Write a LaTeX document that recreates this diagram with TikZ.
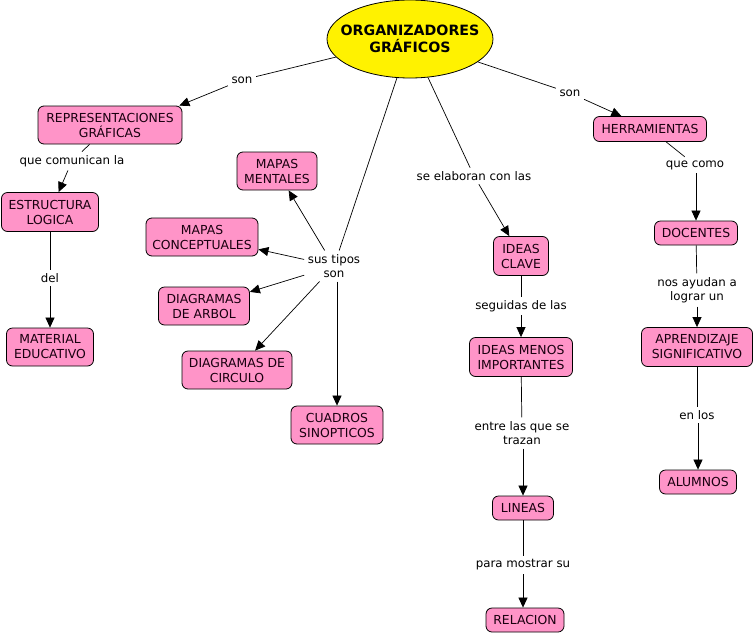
\documentclass[tikz,border=0pt]{standalone}
\usepackage{fontspec}
\setmainfont{DejaVu Sans}
\usetikzlibrary{shapes.geometric,arrows.meta}
\definecolor{boxpink}{HTML}{FF94C8}
\definecolor{boxtext}{HTML}{1A0010}
\tikzset{
  box/.style={draw=black, fill=boxpink, rounded corners=6pt, align=center,
    inner sep=1pt, text=boxtext, font=\fontsize{12.4}{15}\selectfont, line width=0.8pt},
  lbl/.style={align=center, inner sep=3.5pt, font=\fontsize{11.8}{14.5}\selectfont},
  link/.style={line width=0.7pt},
  arr/.style={line width=0.7pt, -{Triangle[length=10pt,width=9pt]}}
}
\begin{document}
\begin{tikzpicture}[x=1pt,y=-1pt]
\useasboundingbox (0,0) rectangle (754,635);
% main concept
\node[ellipse, draw=black, fill=yellow, line width=0.8pt, minimum width=166, minimum height=78,
  inner sep=0pt] (org) at (410,39) {};
\node[align=center, inner sep=0pt, font=\fontsize{14.2}{17}\selectfont\bfseries] (orgt) at (org.center) {ORGANIZADORES\\GRÁFICOS};
% concepts
\node[box, minimum width=144, minimum height=38] (rep) at (110,125) {REPRESENTACIONES\\GRÁFICAS};
\node[box, minimum width=97, minimum height=39] (estr) at (50,212) {ESTRUCTURA\\LOGICA};
\node[box, minimum width=87, minimum height=38] (mat) at (50,347) {MATERIAL\\EDUCATIVO};
\node[box, minimum width=80, minimum height=38] (mm) at (277,171) {MAPAS\\MENTALES};
\node[box, minimum width=112, minimum height=38] (mc) at (202,237) {MAPAS\\CONCEPTUALES};
\node[box, minimum width=91, minimum height=38] (da) at (204,306) {DIAGRAMAS\\DE ARBOL};
\node[box, minimum width=110, minimum height=38] (dc) at (237,370) {DIAGRAMAS DE\\CIRCULO};
\node[box, minimum width=92, minimum height=38] (cs) at (337,425) {CUADROS\\SINOPTICOS};
\node[box, minimum width=55, minimum height=39] (ic) at (521,256) {IDEAS\\CLAVE};
\node[box, minimum width=103, minimum height=39] (im) at (521,357) {IDEAS MENOS\\IMPORTANTES};
\node[box, minimum width=61, minimum height=24] (li) at (523,508) {LINEAS};
\node[box, minimum width=78, minimum height=24] (re) at (525,620) {RELACION};
\node[box, minimum width=113, minimum height=25] (he) at (650,129) {HERRAMIENTAS};
\node[box, minimum width=83, minimum height=24] (do) at (696,233) {DOCENTES};
\node[box, minimum width=111, minimum height=39] (ap) at (697,347) {APRENDIZAJE\\SIGNIFICATIVO};
\node[box, minimum width=77, minimum height=24] (al) at (698,482) {ALUMNOS};
% linking phrases
\node[lbl] (son1) at (242,80) {son};
\node[lbl] (qcl) at (72,161) {que comunican la};
\node[lbl] (del) at (50,278) {del};
\node[lbl] (sus) at (334,266) {sus tipos\\son};
\node[lbl] (sel) at (474,176) {se elaboran con las};
\node[lbl] (seg) at (521,306) {seguidas de las};
\node[lbl] (ent) at (522,433) {entre las que se\\trazan};
\node[lbl] (par) at (523,565) {para mostrar su};
\node[lbl] (son2) at (570,93) {son};
\node[lbl] (qco) at (695,165) {que como};
\node[lbl] (nos) at (697,290) {nos ayudan a\\lograr un};
\node[lbl] (enl) at (697,415) {en los};
% connectors
\draw[link] (org) -- (son1);
\draw[arr] (son1) -- ([xshift=-3pt]rep.north east);
\draw[link] (rep) -- (qcl);
\draw[arr] (qcl) -- (estr);
\draw[link] (estr) -- (del);
\draw[arr] (del) -- (mat);
\draw[link] (org) -- (sus);
\draw[arr] (sus) -- (mm);
\draw[arr] (sus) -- (mc);
\draw[arr] (sus) -- (da);
\draw[arr] (sus) -- (dc);
\draw[arr] (sus.south -| cs.north) -- (cs);
\draw[link] (org) -- (sel);
\draw[arr] (sel) -- (ic);
\draw[link] (ic) -- (seg);
\draw[arr] (seg) -- (im);
\draw[link] (im) -- (ent);
\draw[arr] (ent.south -| li.north) -- (li);
\draw[link] (li) -- (li |- par.north);
\draw[arr] (li |- par.south) -- (li |- re.north);
\draw[link] (org) -- (son2);
\draw[arr] (son2) -- (he);
\draw[link] (he) -- (qco);
\draw[arr] (qco.south -| do.north) -- (do);
\draw[link] (do) -- (nos);
\draw[arr] (nos) -- (ap);
\draw[link] (ap) -- (enl);
\draw[arr] (enl.south -| al.north) -- (al);
\end{tikzpicture}
\end{document}
